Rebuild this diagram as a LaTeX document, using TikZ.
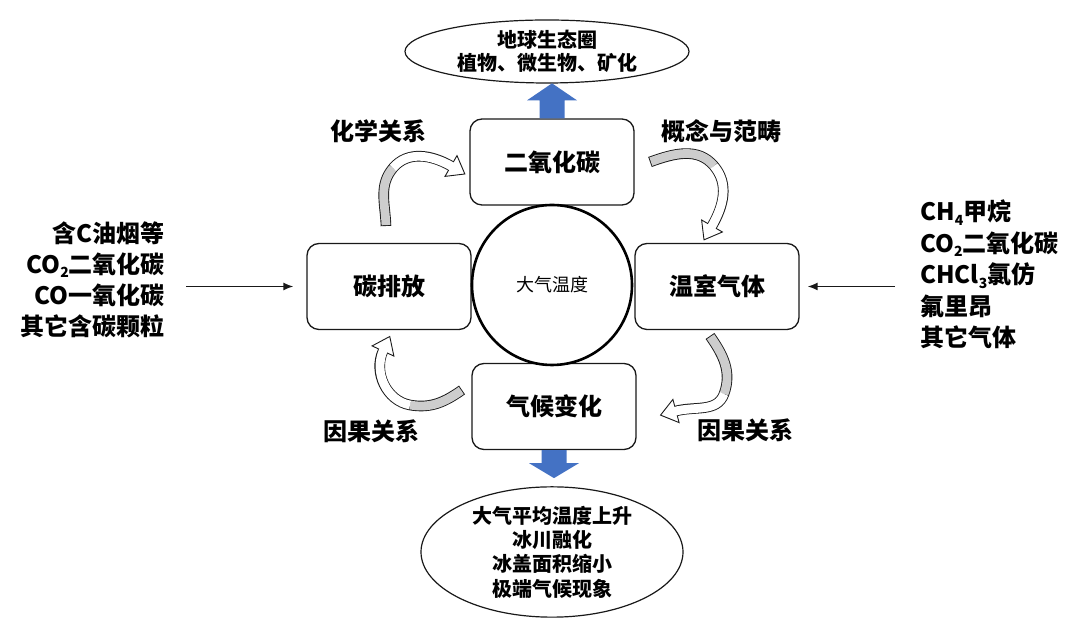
\documentclass[tikz,border=0pt]{standalone}
\usepackage{fontspec}
\setmainfont{Noto Sans CJK SC}
\usetikzlibrary{calc,arrows.meta,shapes.geometric}
\definecolor{blk}{RGB}{25,25,25}
\definecolor{officeblue}{RGB}{68,114,196}
\definecolor{arrgray}{RGB}{205,205,205}
\newcommand{\mysub}[1]{\raisebox{-0.35ex}{\fontsize{14}{14}\selectfont #1}}
% tail, out1, in1, mid, out2, in2, end
\newcommand{\curvedarrow}[7]{%
  \draw[line width=10.6pt, blk] #1 to[out=#2,in=#3] #4 to[out=#5,in=#6] #7;
  \path[fill=white, draw=blk, line width=0.9pt, line join=miter]
    ($#7+({#6+90}:12)$) -- ($#7+({#6+180}:16)$) -- ($#7+({#6-90}:12)$) -- cycle;
  \draw[line width=8.8pt, arrgray, shorten <=0.9pt] #1 to[out=#2,in=#3] #4;
  \draw[line width=8.8pt, white, shorten >=-1.5pt] #4 to[out=#5,in=#6] #7;
}
\begin{document}
\begin{tikzpicture}[x=1pt,y=1pt,
  box/.style={draw=blk, line width=1.3pt, rounded corners=12pt, fill=white,
    minimum width=164pt, minimum height=86pt, inner sep=0pt,
    font=\fontsize{24}{28}\selectfont\bfseries},
  lbl/.style={font=\fontsize{24}{28}\selectfont\bfseries, inner sep=0pt},
  oval/.style={ellipse, draw=blk, line width=1.2pt, fill=white, inner sep=0pt, align=center,
    font=\fontsize{20}{23}\selectfont\bfseries},
  conn/.style={draw=blk, line width=1.5pt, -{Latex[length=10pt,width=8pt]}}
]
\useasboundingbox (0,0) rectangle (1080,634);

% main boxes
\node[box] (co2) at (552,472) {二氧化碳};
\node[box] (ghg) at (717,347.5) {温室气体};
\node[box] (emit) at (389,347.5) {碳排放};
\node[box] (clim) at (554,227.5) {气候变化};
\node[circle, draw=black, line width=2.6pt, fill=white, minimum size=160pt, inner sep=0pt,
  font=\fontsize{18}{20}\selectfont] (temp) at (552,349) {大气温度};

% ellipses
\node[oval, minimum width=284pt, minimum height=63pt] (bio) at (547,582.5)
  {地球生态圈\\植物、微生物、矿化};
\node[oval, minimum width=262pt, minimum height=124pt,
  font=\fontsize{20}{24.3}\selectfont\bfseries] (eff) at (552,82)
  {大气平均温度上升\\冰川融化\\冰盖面积缩小\\极端气候现象};

% blue block arrows
\begin{scope}[shift={(co2.north)}]
  \fill[officeblue] (-12.5,0) -- (-12.5,18) -- (-25,18) -- (0,35) -- (25,18) -- (12.5,18) -- (12.5,0) -- cycle;
\end{scope}
\begin{scope}[shift={(clim.south)}]
  \fill[officeblue] (-12.5,0) -- (-12.5,-13) -- (-25,-13) -- (0,-28) -- (25,-13) -- (12.5,-13) -- (12.5,0) -- cycle;
\end{scope}

% side texts
\node[lbl, anchor=east, align=right, font=\fontsize{24}{31}\selectfont\bfseries] (src) at (165,354.5)
  {含C油烟等\\CO\mysub{2}二氧化碳\\CO一氧化碳\\其它含碳颗粒};
\node[lbl, anchor=west, align=left, font=\fontsize{24}{31.5}\selectfont\bfseries] (gas) at (920,359.5)
  {CH\mysub{4}甲烷\\CO\mysub{2}二氧化碳\\CHCl\mysub{3}氯仿\\氟里昂\\其它气体};

\draw[conn] ($(src.east |- emit.west)+(21,0)$) -- ($(emit.west)+(-13,0)$);
\draw[conn] ($(gas.west |- ghg.east)+(-25,0)$) -- ($(ghg.east)+(8,0)$);

% labels
\node[lbl] (l1) at (378,503) {化学关系};
\node[lbl] (l2) at (721,503) {概念与范畴};
\node[lbl] (l3) at (371,203) {因果关系};
\node[lbl] (l4) at (745,204) {因果关系};

% curved arrows
\coordinate (a1t) at (386,408); \coordinate (a1m) at (393,466); \coordinate (a1e) at (451,468);
\coordinate (a2t) at (650,472); \coordinate (a2m) at (714,468); \coordinate (a2e) at (712,408);
\coordinate (a3t) at (462,244); \coordinate (a3m) at (410,229); \coordinate (a3e) at (383,283);
\coordinate (a4t) at (710,298); \coordinate (a4m) at (724,240); \coordinate (a4e) at (676,223);
\curvedarrow{(a1t)}{92}{-130}{(a1m)}{50}{150}{(a1e)}
\curvedarrow{(a2t)}{20}{130}{(a2m)}{-50}{60}{(a2e)}
\curvedarrow{(a3t)}{-145}{-10}{(a3m)}{170}{-115}{(a3e)}
\curvedarrow{(a4t)}{-55}{70}{(a4m)}{-110}{15}{(a4e)}
\end{tikzpicture}
\end{document}
